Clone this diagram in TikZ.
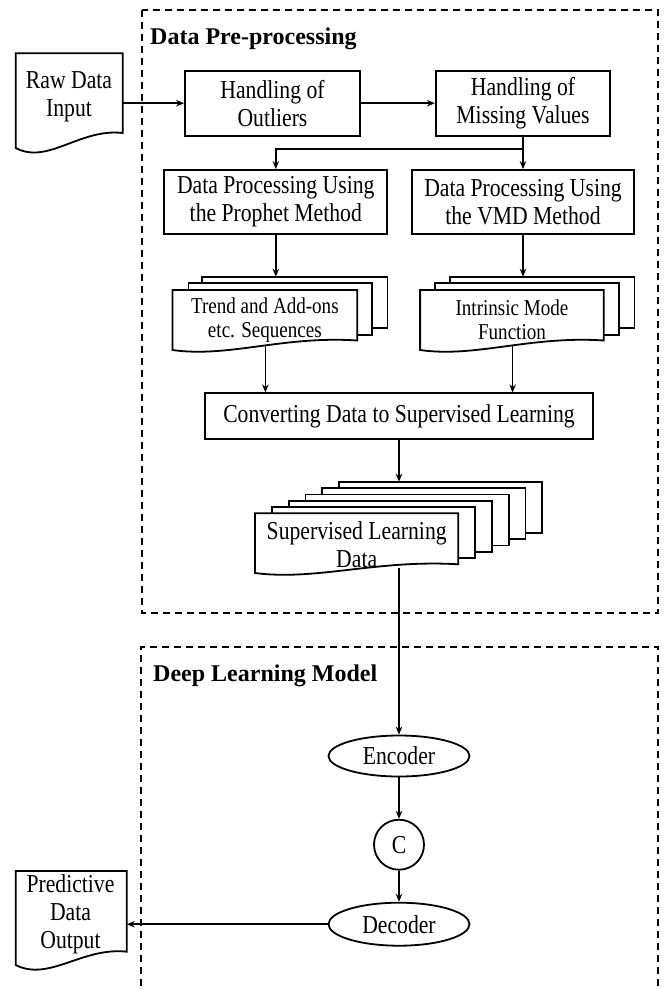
\documentclass[tikz,border=0pt]{standalone}
\usepackage{fontspec}
\setmainfont{Liberation Serif}
\newfontfamily\condfont[FakeStretch=0.84]{Liberation Serif}
\usetikzlibrary{shapes.geometric,arrows.meta}
\newcommand\mainfs{\condfont\fontsize{25.8}{28}\selectfont}
\newcommand\smallfs{\condfont\fontsize{22.7}{24}\selectfont}
\newcommand\titlefs{\fontsize{24}{28}\selectfont\bfseries}
% doc shape: left, top, right, bottom-right, bottom-left, dip
\newcommand\docpath[6]{%
  \filldraw[boxline,fill=white] (#1,#2) -- (#3,#2) -- (#3,#4)
    .. controls ({#1+0.6*(#3-#1)},{#4-5}) and ({#1+0.3*(#3-#1)},{#5+#6}) .. (#1,#5) -- cycle;}
\begin{document}
\begin{tikzpicture}[x=1pt,y=-1pt,
  boxline/.style={line width=1.8pt, line join=miter},
  box/.style={draw, boxline, fill=white, align=center, inner sep=0pt, font=\mainfs},
  txt/.style={align=center, inner sep=0pt},
  arr/.style={line width=1.5pt, -{Stealth[length=8pt,width=6.5pt]}},
  dashbox/.style={line width=1.3pt, dash pattern=on 7pt off 5pt},
  oval/.style={draw, boxline, ellipse, inner sep=0pt, font=\mainfs}]
\useasboundingbox (0,0) rectangle (664,989);

% dashed group frames
\draw[dashbox] (142,10) rectangle (658,613);
\draw[dashbox] (141,1010) -- (141,647) -- (658,647) -- (658,1010);
\node[anchor=base west, font=\titlefs, inner sep=0pt] (t1) at (150,44) {Data Pre-processing};
\node[anchor=base west, font=\titlefs, inner sep=0pt] (t2) at (153,681) {Deep Learning Model};

% raw data input document
\docpath{15.7}{53.3}{122.7}{133}{148}{17}
\node[txt, font=\mainfs] (raw) at (69,96.5) {Raw Data\\Input};
\coordinate (rawE) at (122.7,103.2);

% top boxes
\node[box, minimum width=175, minimum height=65] (out) at (272.5,103.2) {Handling of\\Outliers};
\node[box, minimum width=174.3, minimum height=65] (miss) at (523,103.2) {Handling of\\Missing Values};
\node[box, minimum width=223, minimum height=64] (pro) at (275.8,202) {Data Processing Using\\the Prophet Method};
\node[box, minimum width=222.6, minimum height=64] (vmd) at (523,202) {Data Processing Using\\the VMD Method};

\draw[arr] (rawE) -- (out.west);
\draw[arr] (out.east) -- (miss.west);
\draw[arr] (miss.south) -- (vmd.north);
\coordinate (brn) at (523,149);
\draw[arr] (brn) -| (pro.north);

% prophet stack
\filldraw[boxline,fill=white] (202.1,276.7) rectangle (387.5,328.3);
\filldraw[boxline,fill=white] (188.5,283.3) rectangle (372.2,335);
\docpath{172.5}{290}{357.2}{340.5}{350}{8}
\node[txt, font=\smallfs] (trend) at (264.9,320) {Trend and Add-ons\\etc. Sequences};
\coordinate (pst) at (275.8,276.7);
\coordinate (pfb) at (265.4,345.5);

% vmd stack
\filldraw[boxline,fill=white] (449.7,276.7) rectangle (634.4,328.3);
\filldraw[boxline,fill=white] (435.1,283.3) rectangle (618.8,335);
\docpath{420.1}{290}{603.8}{340.5}{350}{8}
\node[txt, font=\smallfs] (imf) at (512,320) {Intrinsic Mode\\Function};
\coordinate (vst) at (523,276.7);
\coordinate (vfb) at (512.6,345.5);

\draw[arr] (pro.south) -- (pst);
\draw[arr] (vmd.south) -- (vst);

% converting
\node[box, minimum width=387.6, minimum height=45.7] (conv) at (399,416.2) {Converting Data to Supervised Learning};
\draw[arr] (pfb) -- (pfb |- conv.north);
\draw[arr] (vfb) -- (vfb |- conv.north);

% supervised stack
\foreach \i in {5,4,3,2,1}{
  \filldraw[boxline,fill=white] ({255+16.8*\i},{513.3-6.3*\i}) rectangle ({458.3+16.8*\i},{564.3-6.3*\i});
}
\docpath{255}{513.3}{458.3}{564.3}{573}{8}
\node[txt, font=\mainfs] (sup) at (356.7,545) {Supervised Learning\\Data};
\coordinate (sst) at (399,481.7);
\coordinate (sfb) at (399,567.5);
\draw[arr] (conv.south) -- (sst);

% deep learning model
\node[oval, minimum width=141, minimum height=41] (enc) at (399,756) {Encoder};
\node[draw, boxline, circle, inner sep=0pt, minimum size=50, font=\mainfs] (cc) at (399,844.7) {C};
\node[oval, minimum width=141, minimum height=43] (dec) at (399,924.2) {Decoder};
\draw[arr] (sfb) -- (enc.north);
\draw[arr] (enc.south) -- (cc.north);
\draw[arr] (cc.south) -- (dec.north);

% predictive output document
\docpath{15.7}{871}{126.8}{951.7}{965}{17}
\node[txt, font=\mainfs] (pred) at (70.5,914) {Predictive\\Data\\Output};
\coordinate (predE) at (126.8,923);
\draw[arr] (dec.west) -- (dec.west -| predE);
\end{tikzpicture}
\end{document}
